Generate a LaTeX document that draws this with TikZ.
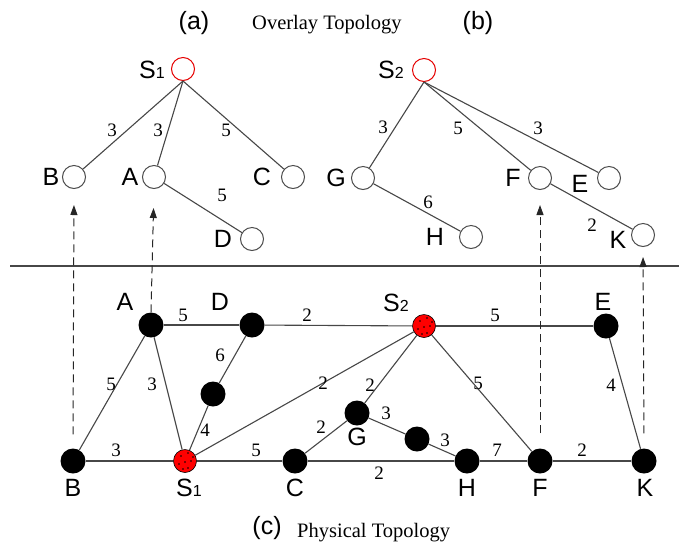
\documentclass[tikz,border=0pt]{standalone}
\usepackage{fontspec}
\setmainfont{Liberation Serif}
\setsansfont{Liberation Sans}
\usetikzlibrary{arrows.meta}
\tikzset{
  ovl/.style={circle, draw=black!70, line width=1pt, minimum size=23pt, inner sep=0pt},
  ovlred/.style={ovl, draw=red!90!black},
  phys/.style={circle, fill=black, minimum size=25pt, inner sep=0pt},
  physred/.style={circle, fill=red, draw=black, line width=0.6pt, minimum size=23pt, inner sep=0pt},
  lbl/.style={font=\sffamily\fontsize{25}{25}\selectfont, inner sep=0pt},
  num/.style={font=\fontsize{19}{19}\selectfont, inner sep=0pt},
  captxt/.style={font=\fontsize{20.5}{20.5}\selectfont, inner sep=0pt},
  edge/.style={draw=black!72, line width=1.1pt},
  uparrow/.style={draw=black!85, line width=1pt, dash pattern=on 8pt off 5pt, -{Triangle[length=10pt,width=7pt]}},
}
\newcommand{\subS}[1]{S{\fontsize{16}{16}\selectfont #1}}
\begin{document}
\begin{tikzpicture}[x=1pt,y=-1pt]
\useasboundingbox (0,0) rectangle (679,547);
% titles
\node[lbl] (ta) at (194,23) {(a)};
\node[lbl] (tb) at (478,23) {(b)};
\node[lbl] (tc) at (267,528) {(c)};
\node[captxt, anchor=base west] (tov) at (252,29) {Overlay Topology};
\node[captxt, anchor=base west] (tph) at (297,537) {Physical Topology};
% separator
\coordinate (sepL) at (10,266);
\coordinate (sepR) at (679,266);
\draw[edge] (sepL) -- (sepR);

% ---------------- overlay (a)
\node[ovlred] (oS1) at (183,69) {};
\node[ovl] (oB) at (74,177) {};
\node[ovl] (oA) at (154,177) {};
\node[ovl] (oC) at (293,177) {};
\node[ovl] (oD) at (252,239) {};
\node[lbl] (loS1) at (152,70) {\subS{1}};
\node[lbl] (loB) at (51,177) {B};
\node[lbl] (loA) at (130,177) {A};
\node[lbl] (loC) at (262,177) {C};
\node[lbl] (loD) at (223,239) {D};
\draw[edge] (oS1.south) -- (oB);
\draw[edge] (oS1.south) -- (oA);
\draw[edge] (oS1.south) -- (oC);
\draw[edge] (oA) -- (oD);
\node[num] at (112,130) {3};
\node[num] at (158,130) {3};
\node[num] at (226,130) {5};
\node[num] at (222,195) {5};

% ---------------- overlay (b)
\node[ovlred] (oS2) at (424,70) {};
\node[ovl] (oG) at (363,178) {};
\node[ovl] (oF) at (540,178) {};
\node[ovl] (oE) at (609,178) {};
\node[ovl] (oH) at (471,237) {};
\node[ovl] (oK) at (643,235) {};
\node[lbl] (loS2) at (391,70) {\subS{2}};
\node[lbl] (loG) at (336,178) {G};
\node[lbl] (loF) at (513,178) {F};
\node[lbl] (loE) at (580,184) {E};
\node[lbl] (loH) at (435,237) {H};
\node[lbl] (loK) at (618,240) {K};
\draw[edge] (oS2.south) -- (oG);
\draw[edge] (oS2.south) -- (oF);
\draw[edge] (oS2.south) -- (oE);
\draw[edge] (oG) -- (oH);
\draw[edge] (oF) -- (oK);
\node[num] at (383,127) {3};
\node[num] at (458,128) {5};
\node[num] at (538,128) {3};
\node[num] at (428,202) {6};
\node[num] at (592,225) {2};

% ---------------- physical (c)
\node[phys] (pA) at (151,325) {};
\node[phys] (pD) at (252,325) {};
\node[physred] (pS2) at (424,326) {};
\node[phys] (pE) at (606,326) {};
\node[phys] (pM) at (213,394) {};
\node[phys] (pB) at (73,461) {};
\node[physred] (pS1) at (185,461) {};
\node[phys] (pC) at (295,461) {};
\node[phys] (pG) at (357,413) {};
\node[phys] (pN) at (417,439) {};
\node[phys] (pH) at (467,461) {};
\node[phys] (pF) at (540,461) {};
\node[phys] (pK) at (644,461) {};
% dots on red nodes
\foreach \n in {pS1,pS2}{
  \foreach \dx/\dy in {-4/-5, 3/-8, 0/1, 6/0, -6/3, 3/7, -2/8, 8/-4}{
    \fill ([shift={(\dx,\dy)}]\n.center) circle (0.8pt);
  }
}
\node[lbl] (lpA) at (125,302) {A};
\node[lbl] (lpD) at (220,302) {D};
\node[lbl] (lpS2) at (396,303) {\subS{2}};
\node[lbl] (lpE) at (603,302) {E};
\node[lbl] (lpG) at (357,437) {G};
\node[lbl] (lpB) at (73,488) {B};
\node[lbl] (lpS1) at (189,488) {\subS{1}};
\node[lbl] (lpC) at (295,488) {C};
\node[lbl] (lpH) at (467,488) {H};
\node[lbl] (lpF) at (540,488) {F};
\node[lbl] (lpK) at (645,488) {K};

\draw[edge] (pA) -- (pD);
\draw[edge] (pD) -- (pS2);
\draw[edge] (pS2) -- (pE);
\draw[edge] (pA) -- (pB);
\draw[edge] (pA) -- (pS1);
\draw[edge] (pD) -- (pM);
\draw[edge] (pM) -- (pS1);
\draw[edge] (pS1) -- (pS2);
\draw[edge] (pS2) -- (pG);
\draw[edge] (pS2) -- (pF);
\draw[edge] (pE) -- (pK);
\draw[edge] (pB) -- (pS1);
\draw[edge] (pS1) -- (pC);
\draw[edge] (pC) -- (pG);
\draw[edge] (pG) -- (pN);
\draw[edge] (pN) -- (pH);
\draw[edge] (pC) -- (pH);
\draw[edge] (pH) -- (pF);
\draw[edge] (pF) -- (pK);
\node[num] at (183,315) {5};
\node[num] at (307,315) {2};
\node[num] at (495,315) {5};
\node[num] at (111,384) {5};
\node[num] at (152,384) {3};
\node[num] at (220,355) {6};
\node[num] at (205,430) {4};
\node[num] at (323,383) {2};
\node[num] at (370,385) {2};
\node[num] at (478,383) {5};
\node[num] at (611,385) {4};
\node[num] at (116,450) {3};
\node[num] at (256,450) {5};
\node[num] at (321,427) {2};
\node[num] at (386,413) {3};
\node[num] at (445,440) {3};
\node[num] at (497,450) {7};
\node[num] at (582,450) {2};
\node[num] at (379,473) {2};

% dashed mapping arrows
\draw[uparrow, shorten <=14pt, shorten >=16pt] (pB.north) -- (oB.south);
\draw[uparrow, shorten >=19pt] (pA.north) -- (oA.south);
\draw[uparrow, shorten <=15pt, shorten >=15pt] (pF.north) -- (oF.south);
\draw[uparrow, shorten <=15pt, shorten >=10pt] (pK.north) -- (oK.south);
\end{tikzpicture}
\end{document}
